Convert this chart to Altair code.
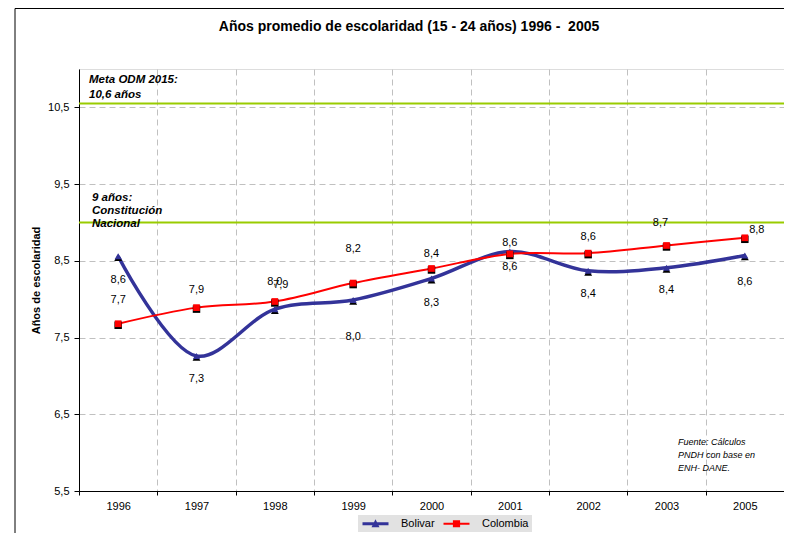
import altair as alt
import pandas as pd

# ---- data ----
years = ["1996", "1997", "1998", "1999", "2000", "2001", "2002", "2003", "2005"]
series_names = ["Bolivar", "Colombia"]
bolivar = [8.56, 7.26, 7.87, 7.99, 8.27, 8.62, 8.37, 8.41, 8.57]
colombia = [7.68, 7.89, 7.97, 8.21, 8.40, 8.59, 8.60, 8.70, 8.80]
meta_odm = 10.55
constitucion = 9.0
y_ticks = [5.5, 6.5, 7.5, 8.5, 9.5, 10.5]
y_domain = [5.5, 11]
title_text = "Años promedio de escolaridad (15 - 24 años) 1996 - \u00a02005"

# label placement offsets (pixels) for the data labels
bol_label_dy = [24, 23, -24, 37, 25, -9, 23, 22, 27]
bol_label_dx = [0, 0, 6, 0, 0, 0, 0, 0, 0]
col_label_dy = [-24, -18, -19, -34, -14, 13, -16, -22, -8]
col_label_dx = [0, 0, 0, 0, 0, 0, 0, -6, 12]

BLUE = "#333399"
RED = "#ff0000"
GREEN = "#99cc00"
FONT = "Liberation Sans"
PLOT_W, PLOT_H = 705, 422
UNITS_PER_PX = (y_domain[1] - y_domain[0]) / PLOT_H

rows = []
for i, yr in enumerate(years):
    rows.append(dict(year=yr, series="Bolivar", value=bolivar[i], ldx=bol_label_dx[i], ldy=bol_label_dy[i]))
for i, yr in enumerate(years):
    rows.append(dict(year=yr, series="Colombia", value=colombia[i], ldx=col_label_dx[i], ldy=col_label_dy[i]))
df = pd.DataFrame(rows)

x_enc = alt.X(
    "year:O",
    sort=years,
    scale=alt.Scale(type="band", paddingInner=0, paddingOuter=0),
    axis=alt.Axis(
        title=None, labelAngle=0, tickBand="extent", grid=True,
        gridDash=[6, 4], gridColor="#c0c0c0", domainColor="black",
        tickColor="black", tickSize=4, labelPadding=5, labelFontSize=11,
        labelColor="black", labelFont=FONT,
    ),
)
y_scale = alt.Scale(domain=y_domain, nice=False, zero=False)
y_axis = alt.Axis(
    values=y_ticks,
    labelExpr="replace(format(datum.value, '.1f'), '.', ',')",
    title="Años de escolaridad", titleFontWeight="bold", titleFontSize=11,
    titleFont=FONT, titleColor="black", titlePadding=6,
    grid=True, gridDash=[6, 4], gridColor="#c0c0c0",
    domainColor="black", tickColor="black", tickSize=5, labelPadding=5,
    labelFontSize=11, labelColor="black", labelFont=FONT,
)
y_enc = alt.Y("value:Q", scale=y_scale, axis=y_axis)

base = alt.Chart(df).encode(x=x_enc, y=y_enc)

# reference lines
ref = alt.Chart(pd.DataFrame({"ref": [meta_odm, constitucion]})).mark_rule(
    color=GREEN, strokeWidth=2
).encode(y=alt.Y("ref:Q", scale=y_scale, axis=y_axis))

# lines
line_bol = base.transform_filter("datum.series == 'Bolivar'").mark_line(
    color=BLUE, strokeWidth=3.5, interpolate="catmull-rom"
)
line_col = base.transform_filter("datum.series == 'Colombia'").mark_line(
    color=RED, strokeWidth=2, interpolate="catmull-rom"
)

# marker shadows (slightly lower) and markers
shadow_base = alt.Chart(df).transform_calculate(
    sy=f"datum.value - 1.5 * {UNITS_PER_PX}"
).encode(x=x_enc, y=alt.Y("sy:Q", scale=y_scale, axis=y_axis))
shadow_bol = shadow_base.transform_filter("datum.series == 'Bolivar'").mark_point(
    filled=True, color="black", shape="triangle-up", size=62, opacity=1
)
shadow_col = shadow_base.transform_filter("datum.series == 'Colombia'").mark_point(
    filled=True, color="black", shape="square", size=56, opacity=1
)
pt_bol = base.transform_filter("datum.series == 'Bolivar'").mark_point(
    filled=True, color=BLUE, shape="triangle-up", size=50, opacity=1
)
pt_col = base.transform_filter("datum.series == 'Colombia'").mark_point(
    filled=True, color=RED, shape="square", size=45, opacity=1
)

# data labels (one layer per horizontal nudge)
label_layers = []
for nudge in sorted(set(bol_label_dx + col_label_dx)):
    label_layers.append(
        alt.Chart(df).transform_filter(f"datum.ldx == {nudge}").transform_calculate(
            label="replace(format(datum.value, '.1f'), '.', ',')",
            ly=f"datum.value - datum.ldy * {UNITS_PER_PX}",
        ).mark_text(fontSize=11, color="black", font=FONT, dx=nudge).encode(
            x=x_enc,
            y=alt.Y("ly:Q", scale=y_scale, axis=y_axis),
            text="label:N",
        )
    )

# legend (custom line+marker symbols)
bol_sym = "M-3.25,-0.375H3.25V0.375H-3.25Z M0,-1.1L1,0.9L-1,0.9Z"
col_sym = "M-3.25,-0.25H3.25V0.25H-3.25Z M-0.9,-0.9H0.9V0.9H-0.9Z"
leg_props = dict(
    orient="none", legendX=279, legendY=446, direction="horizontal", title=None,
    symbolOpacity=1, symbolSize=64, symbolOffset=9, labelOffset=20,
    columnPadding=7, padding=3, labelFontSize=11, labelFont=FONT,
    labelColor="black", symbolStrokeWidth=0, fillColor="#e2e2e2",
)
legend_layer = base.mark_point(filled=True, opacity=0, size=64).encode(
    color=alt.Color("series:N", scale=alt.Scale(domain=series_names, range=[BLUE, RED]),
                    legend=alt.Legend(**leg_props)),
    shape=alt.Shape("series:N", scale=alt.Scale(domain=series_names, range=[bol_sym, col_sym]),
                    legend=alt.Legend(**leg_props)),
)

# annotations
note_meta = alt.Chart(pd.DataFrame({"t": [["Meta ODM 2015:", "10,6 años"]]})).mark_text(
    align="left", baseline="bottom", fontSize=11.5, fontStyle="italic", fontWeight="bold",
    lineHeight=15, dy=-19, font=FONT, color="black"
).encode(x=alt.value(10), y=alt.datum(meta_odm), text="t")
note_const = alt.Chart(pd.DataFrame({"t": [["9 años:", "Constitución", "Nacional"]]})).mark_text(
    align="left", baseline="bottom", fontSize=11.5, fontStyle="italic", fontWeight="bold",
    lineHeight=13, dy=-19, font=FONT, color="black"
).encode(x=alt.value(13), y=alt.datum(constitucion), text="t")
note_src = alt.Chart(pd.DataFrame({"t": [["Fuente: Cálculos", "PNDH con base en", "ENH- DANE."]]})).mark_text(
    align="left", baseline="bottom", fontSize=9, fontStyle="italic",
    lineHeight=13, font=FONT, color="black"
).encode(x=alt.value(599), y=alt.value(378), text="t")

# chart title
title_mark = alt.Chart(pd.DataFrame({"t": [title_text]})).mark_text(
    align="center", baseline="middle", fontSize=14, fontWeight="bold", font=FONT, color="black"
).encode(x=alt.value(330), y=alt.value(-42), text="t")

# outer frame (left and top edges)
frame_left = alt.Chart(pd.DataFrame({"a": [0]})).mark_rule(color="black", strokeWidth=1).encode(
    x=alt.value(-64), y=alt.value(-60.5), y2=alt.value(470)
)
frame_top = alt.Chart(pd.DataFrame({"a": [0]})).mark_rule(color="black", strokeWidth=1).encode(
    x=alt.value(-64), x2=alt.value(720), y=alt.value(-60.5)
)

chart = alt.layer(
    frame_left, frame_top, ref, line_bol, line_col, shadow_bol, shadow_col,
    pt_bol, pt_col, *label_layers, legend_layer, note_meta, note_const, note_src, title_mark,
).properties(
    width=PLOT_W, height=PLOT_H,
    autosize=alt.AutoSizeParams(type="none"),
    padding={"left": 71, "top": 61, "right": 0, "bottom": 42},
).configure_view(stroke=None).configure(font=FONT, background="white")

chart.save("out.html", embed_options={"renderer": "svg", "actions": False})
